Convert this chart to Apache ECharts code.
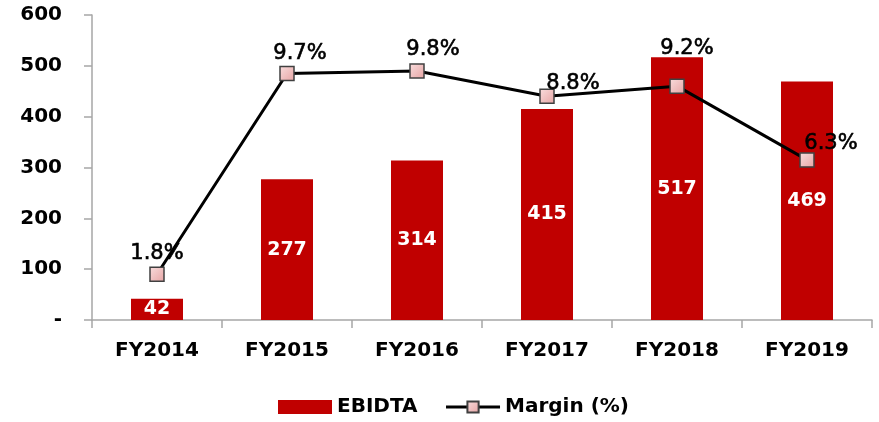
<!DOCTYPE html>
<html>
<head>
<meta charset="utf-8">
<script src="https://cdn.jsdelivr.net/npm/echarts@6/dist/echarts.min.js"></script>
<style>
  html, body { margin: 0; padding: 0; background: #fff; }
  #chart { width: 879px; height: 422px; }
</style>
</head>
<body>
<div id="chart"></div>
<script>
var years = ["FY2014", "FY2015", "FY2016", "FY2017", "FY2018", "FY2019"];
var ebidta = [42, 277, 314, 415, 517, 469];
var margin = [1.8, 9.7, 9.8, 8.8, 9.2, 6.3];
var yTicks = [0, 100, 200, 300, 400, 500, 600];

var font = '"DejaVu Sans", Verdana, sans-serif';
var axisGray = "#a6a6a6";

// label nudges for the margin points, so they sit like the original
var nudge = [[0, 6], [13, 6], [16, 5], [26, 13], [10, -11], [24, 10]];

var myChart = echarts.init(document.getElementById("chart"));
myChart.setOption({
  animation: false,
  grid: { left: 92, right: 7, top: 15, bottom: 102, containLabel: false },
  legend: {
    top: 392,
    left: 273,
    itemWidth: 54,
    itemHeight: 14,
    itemGap: 27,
    lineStyle: { width: 3 },
    textStyle: { fontFamily: font, fontWeight: "bold", fontSize: 20, color: "#000" },
    data: [
      { name: "EBIDTA", icon: "rect" },
      { name: "Margin (%)" }
    ]
  },
  xAxis: {
    type: "category",
    data: years,
    axisLine: { lineStyle: { color: axisGray, width: 1.5 } },
    axisTick: { show: true, length: 8, lineStyle: { color: axisGray, width: 1.5 } },
    axisLabel: { margin: 21, fontFamily: font, fontWeight: "bold", fontSize: 20, color: "#000" }
  },
  yAxis: [
    {
      type: "value",
      min: yTicks[0],
      max: yTicks[yTicks.length - 1],
      interval: 100,
      splitLine: { show: false },
      axisLine: { show: true, lineStyle: { color: axisGray, width: 1.5 } },
      axisTick: { show: true, length: 8, lineStyle: { color: axisGray, width: 1.5 } },
      axisLabel: {
        margin: 30,
        fontFamily: font,
        fontWeight: "bold",
        fontSize: 20,
        color: "#000",
        formatter: function (v) { return v === 0 ? "-" : String(v); }
      }
    },
    {
      type: "value",
      min: 0,
      max: 12,
      show: false,
      splitLine: { show: false }
    }
  ],
  series: [
    {
      name: "EBIDTA",
      type: "bar",
      data: ebidta,
      barWidth: "40%",
      itemStyle: { color: "#c00000" },
      label: {
        show: true,
        position: "inside",
        color: "#fff",
        fontFamily: font,
        fontWeight: "bold",
        fontSize: 19
      }
    },
    {
      name: "Margin (%)",
      type: "line",
      yAxisIndex: 1,
      data: margin.map(function (m, i) {
        return { value: m, label: { offset: nudge[i] } };
      }),
      symbol: "rect",
      symbolSize: 14,
      lineStyle: { color: "#000", width: 3 },
      itemStyle: {
        color: new echarts.graphic.LinearGradient(0, 0, 1, 1, [
          { offset: 0, color: "#f9dede" },
          { offset: 1, color: "#e6a3a3" }
        ]),
        borderColor: "#404040",
        borderWidth: 1.5
      },
      label: {
        show: true,
        position: "top",
        distance: 8,
        color: "#000",
        fontFamily: font,
        fontSize: 21,
        textBorderColor: "#000",
        textBorderWidth: 0.6,
        formatter: function (p) { return p.value.toFixed(1) + "%"; }
      }
    }
  ]
});
</script>
</body>
</html>
